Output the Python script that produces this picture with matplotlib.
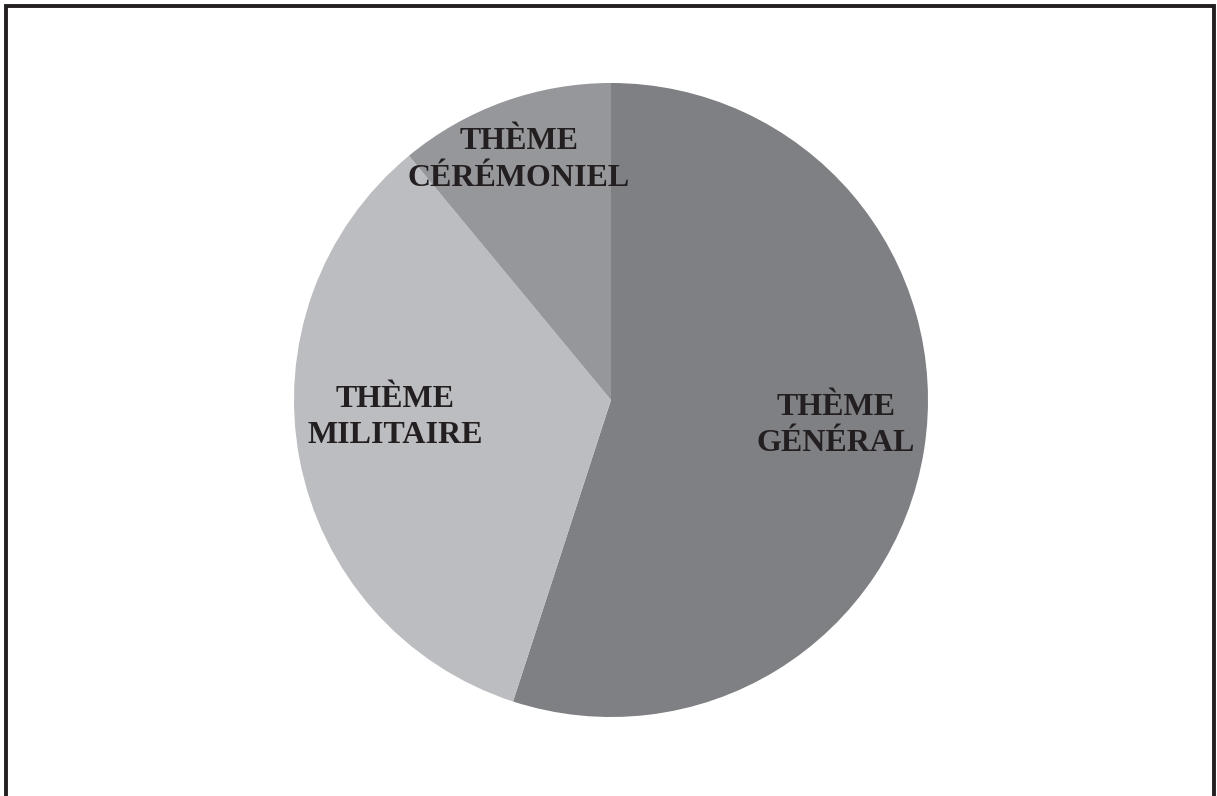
import matplotlib
matplotlib.use('Agg')
import matplotlib.pyplot as plt
from matplotlib.patches import Rectangle

# Données du graphique (parts en %)
themes = ['THÈME\nGÉNÉRAL', 'THÈME\nMILITAIRE', 'THÈME\nCÉRÉMONIEL']
parts = [55, 34, 11]
couleurs = ['#7f8084', '#bcbdc0', '#96979b']

# Position des étiquettes (coordonnées du camembert, rayon 1)
pos_labels = [(0.71, -0.08), (-0.681, -0.055), (-0.29, 0.758)]

fig = plt.figure(figsize=(12.17, 7.96), dpi=100)
fig.patch.set_facecolor('white')

# Cadre noir autour de la figure
fig.patches.append(Rectangle((6 / 1217, -0.01), 1208 / 1217, 1 - 5.5 / 796 + 0.01,
                             transform=fig.transFigure, fill=False,
                             edgecolor='#231f20', linewidth=2.8))

ax = fig.add_axes([294 / 1217, 79 / 796, 634 / 1217, 634 / 796])
ax.pie(parts, colors=couleurs, startangle=90, counterclock=False,
       wedgeprops={'linewidth': 0})
ax.set_xlim(-1, 1)
ax.set_ylim(-1, 1)
ax.set_aspect('equal')
ax.axis('off')

for txt, (x, y) in zip(themes, pos_labels):
    ax.text(x, y, txt, ha='center', va='center', fontsize=23,
            fontweight='bold', family='Liberation Serif', color='#231f20',
            linespacing=1.35)

fig.savefig('out.png', dpi=100)
